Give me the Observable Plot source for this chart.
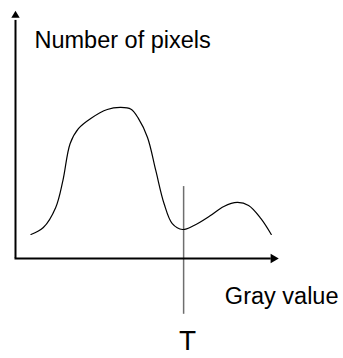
<!DOCTYPE html>
<html>
<head>
<meta charset="utf-8">
<script src="https://cdn.jsdelivr.net/npm/d3@7"></script>
<script src="https://cdn.jsdelivr.net/npm/@observablehq/plot@0.6"></script>
<style>
  html, body { margin: 0; padding: 0; background: #fff; }
</style>
</head>
<body>
<div id="chart"></div>
<script>
// Bimodal gray-level histogram with a threshold T in the valley.
const grayValues  = [15, 27, 39, 46, 53, 61, 73, 89, 102, 112, 119, 128, 136, 144, 152, 162, 173, 189, 202, 215, 226, 238, 248];
const pixelCounts = [9.7, 12.5, 20.6, 31.5, 46.4, 52.4, 56.5, 60.1, 60.9, 60.2, 56.6, 48.8, 35.5, 22.2, 14.1, 11.7, 13.3, 17.3, 21.0, 22.6, 21.4, 16.1, 9.7];
const threshold = 163;
const thresholdLabel = "T";
const yAxisTitle = "Number of pixels";
const xAxisTitle = "Gray value";

const histogram = grayValues.map((gray, i) => ({gray, count: pixelCounts[i]}));

const chart = Plot.plot({
  width: 343,
  height: 358,
  marginLeft: 15,
  marginRight: 65,
  marginTop: 10,
  marginBottom: 100,
  x: {domain: [0, 255], axis: null},
  y: {domain: [0, 100], axis: null},
  style: {fontFamily: "'Liberation Sans', Arial, sans-serif", background: "#fff", color: "#000"},
  marks: [
    // threshold line, running from above the valley down past the gray axis
    Plot.ruleX([threshold], {y1: 29, y2: -22.5, stroke: "#6e6e6e", strokeWidth: 1.5, clip: false}),
    // axes with filled arrowheads
    Plot.ruleX([0], {y1: 0, y2: 96, stroke: "#000", strokeWidth: 2}),
    Plot.ruleY([0], {x1: -0.5, x2: 248, stroke: "#000", strokeWidth: 2}),
    Plot.dot([0], {x: 0, y: 98, symbol: "triangle", r: 3.1, fill: "#000", stroke: null}),
    Plot.dot([0], {x: 250, y: 0, symbol: "triangle", r: 3.5, rotate: 90, fill: "#000", stroke: null}),
    // histogram curve
    Plot.line(histogram, {x: "gray", y: "count", curve: "catmull-rom", stroke: "#000", strokeWidth: 1.2}),
    // labels
    Plot.text([yAxisTitle], {frameAnchor: "top-left", text: d => d, dx: 19, dy: 29.5, textAnchor: "start", lineAnchor: "middle", fontSize: 23.5, fill: "#000"}),
    Plot.text([xAxisTitle], {frameAnchor: "bottom-right", text: d => d, dx: 60, dy: 37.5, textAnchor: "end", lineAnchor: "middle", fontSize: 23.5, fill: "#000"}),
    Plot.text([thresholdLabel], {x: threshold, frameAnchor: "bottom", text: d => d, dx: 4, dy: 83, lineAnchor: "middle", fontSize: 28, fill: "#000"})
  ]
});

document.getElementById("chart").appendChild(chart);
</script>
</body>
</html>
